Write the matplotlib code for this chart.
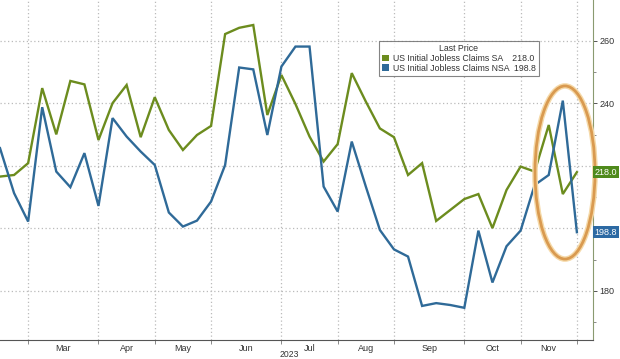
import matplotlib
matplotlib.use("Agg")
import matplotlib.pyplot as plt
from matplotlib.patches import Patch, Ellipse

plt.rcParams['font.family'] = ['Liberation Sans', 'DejaVu Sans']

# Weekly data (thousands), Feb 2023 - Nov 25 2023
sa = [216.6, 217.1, 220.9, 244.9, 230.1, 247.2, 246.1, 228.3, 240.1, 245.9,
      229.2, 242.0, 231.5, 225.1, 229.9, 232.8, 262.2, 264.2, 265.1, 236.3,
      249.1, 239.8, 229.4, 221.4, 227.0, 249.7, 240.6, 232.0, 229.2, 217.1,
      220.9, 202.4, 205.9, 209.4, 211.0, 200.1, 212.3, 219.8, 218.2, 233.1,
      211.0, 218.0]
nsa = [225.7, 211.3, 202.2, 238.8, 218.2, 213.2, 224.1, 207.2, 235.3, 229.4,
       224.6, 220.3, 205.1, 200.6, 202.5, 208.6, 220.3, 251.5, 250.9, 229.9,
       251.8, 258.2, 258.2, 213.4, 205.4, 227.8, 213.4, 199.5, 193.3, 191.0,
       175.2, 176.1, 175.5, 174.6, 199.3, 182.7, 194.3, 199.3, 213.9, 217.1,
       240.9, 198.8]
series_names = ["US Initial Jobless Claims SA", "US Initial Jobless Claims NSA"]
last_values = ["218.0", "198.8"]
months = ["Mar", "Apr", "May", "Jun", "Jul", "Aug", "Sep", "Oct", "Nov"]
month_bounds = [2, 7, 11, 15, 20, 24, 28, 33, 37, 41]
yticks = [180, 200, 220, 240, 260]
ytick_labels = ["180", "", "", "240", "260"]  # 200 and 220 are hidden behind the value tags
year_label = "2023"

SA_C = '#6c8c1e'
NSA_C = '#2f6a98'

fig = plt.figure(figsize=(6.2, 3.59), dpi=100)
ax = fig.add_axes([0.0, 1 - 340 / 359, 593 / 620, 340 / 359])

x = list(range(len(sa)))
ax.plot(x, sa, color=SA_C, lw=1.7, zorder=3, solid_joinstyle='miter')
ax.plot(x, nsa, color=NSA_C, lw=1.7, zorder=3, solid_joinstyle='miter')

ax.set_xlim(0, 593 / 14.07)
ax.set_ylim(164.3, 273.1)

# grid
for b in month_bounds:
    ax.axvline(b, color='#bbbbbb', lw=0.9, ls=(0, (1, 2)), zorder=1)
for yv in yticks:
    ax.axhline(yv, color='#bbbbbb', lw=0.9, ls=(0, (1, 2)), zorder=1)

# spines
for s in ['top', 'left']:
    ax.spines[s].set_visible(False)
ax.spines['bottom'].set_color('#555555')
ax.spines['bottom'].set_linewidth(0.8)
ax.spines['right'].set_color('#8a9a70')
ax.spines['right'].set_linewidth(0.8)

# y axis right
ax.yaxis.tick_right()
ax.set_yticks(yticks)
ax.set_yticklabels(ytick_labels, fontsize=6.5, color='#333333')
ax.set_yticks([170, 190, 210, 230, 250], minor=True)
ax.tick_params(axis='y', which='major', length=3, width=0.7, color='#555555', pad=1.5)
ax.tick_params(axis='y', which='minor', length=2, width=0.6, color='#777777')

# x axis
ax.set_xticks(month_bounds)
ax.set_xticklabels([''] * len(month_bounds))
ax.tick_params(axis='x', which='major', length=3, width=0.6, color='#777777')
for i, m in enumerate(months):
    xm = (month_bounds[i] + month_bounds[i + 1]) / 2
    ax.text(xm, -0.013, m, transform=ax.get_xaxis_transform(), ha='center', va='top',
            fontsize=6.5, color='#333333')
ax.text(20.55, -0.029, year_label, transform=ax.get_xaxis_transform(), ha='center', va='top',
        fontsize=6.2, color='#333333')

# value tags
trans = ax.get_yaxis_transform()
ax.text(1.003, 218.0, last_values[0], transform=trans, ha='left', va='center', fontsize=6.5,
        color='white', clip_on=False, zorder=6,
        bbox=dict(boxstyle='square,pad=0.2', fc='#4f8a1c', ec='none'))
ax.text(1.003, 198.8, last_values[1], transform=trans, ha='left', va='center', fontsize=6.5,
        color='white', clip_on=False, zorder=6,
        bbox=dict(boxstyle='square,pad=0.2', fc='#2d6aa3', ec='none'))

# legend
handles = [Patch(facecolor=SA_C, edgecolor='none'), Patch(facecolor=NSA_C, edgecolor='none')]
labels = [series_names[0] + "    " + last_values[0], series_names[1] + "  " + last_values[1]]
leg = ax.legend(handles, labels, title="Last Price", loc='upper left',
                bbox_to_anchor=(379 / 593, 1 - 41 / 340), fontsize=6.3, title_fontsize=6.3,
                frameon=True, fancybox=False, edgecolor='#666666', handlelength=0.8,
                handleheight=0.8, handletextpad=0.4, borderpad=0.35, labelspacing=0.1,
                borderaxespad=0)
leg.get_frame().set_linewidth(0.8)
leg.get_title().set_color('#333333')
for t in leg.get_texts():
    t.set_color('#333333')
leg.set_zorder(5)

# orange ellipse highlight
pxu = 14.07
e_glow = Ellipse((565 / pxu, 217.9), 60 / pxu, 55.4, fill=False, ec='#f5d9a8', lw=4.0,
                 clip_on=False, zorder=4)
e = Ellipse((565 / pxu, 217.9), 60 / pxu, 55.4, fill=False, ec='#d99a50', lw=2.0,
            clip_on=False, zorder=4)
ax.add_patch(e_glow)
ax.add_patch(e)

fig.savefig("out.png", dpi=100, facecolor='white')
